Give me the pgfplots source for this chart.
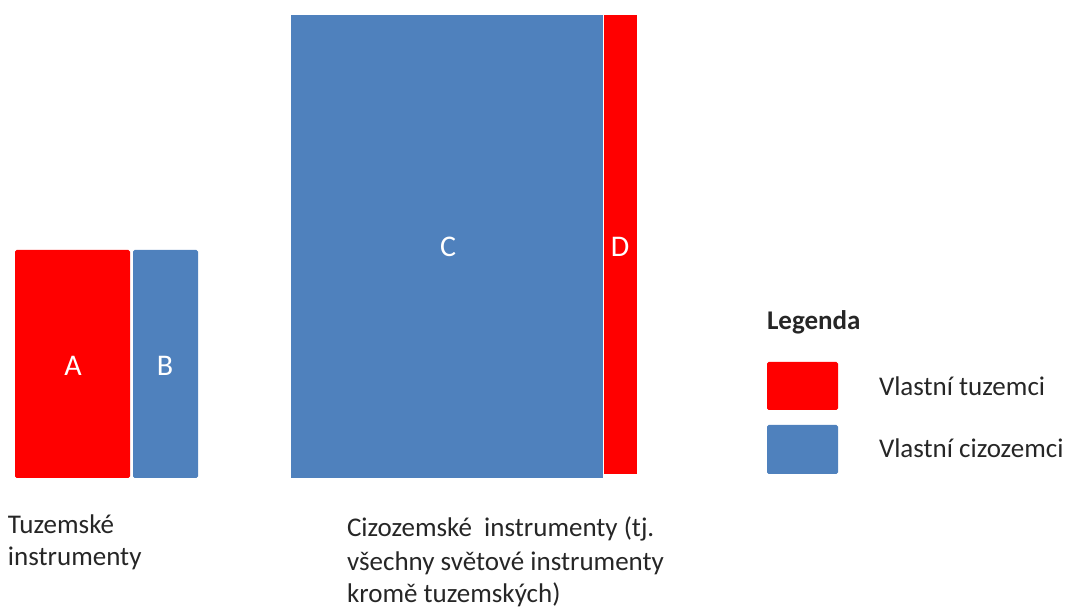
\documentclass[border=0pt]{standalone}
\usepackage{pgfplots}
\pgfplotsset{compat=1.18}
\usepackage{fontspec}
\setmainfont{Carlito}
\definecolor{cred}{HTML}{FF0000}
\definecolor{cblue}{HTML}{4F81BD}
\definecolor{ctext}{HTML}{262626}
\tikzset{
  lbl/.style={font=\fontsize{13.5pt}{16pt}\selectfont, text=ctext, inner sep=0pt, outer sep=0pt, anchor=base west},
  box/.style={font=\fontsize{15pt}{17pt}\selectfont, text=white, inner sep=0pt, outer sep=0pt},
}
\begin{document}
\begin{tikzpicture}
\begin{axis}[
  scale only axis, width=534pt, height=303pt,
  xmin=0, xmax=1068, ymin=0, ymax=606, y dir=reverse,
  hide axis, clip=false,
]
% invisible frame to fix the picture size
\addplot[draw=none, forget plot] coordinates {(0,0) (1068,606)};
% Tuzemske instrumenty: A (own domestic), B (own foreign)
\addplot[fill=cred, draw=none, rounded corners=0.8pt] coordinates {(15,250) (130,250) (130,478) (15,478)} -- cycle;
\addplot[fill=cblue, draw=none, rounded corners=0.8pt] coordinates {(133,250) (198,250) (198,478) (133,478)} -- cycle;
% Cizozemske instrumenty: C (own foreign), D (own domestic)
\addplot[fill=cblue, draw=none] coordinates {(291,15) (603,15) (603,478) (291,478)} -- cycle;
\addplot[fill=cred, draw=none] coordinates {(604,15) (637,15) (637,474) (604,474)} -- cycle;
% legend swatches
\addplot[fill=cred, draw=none, rounded corners=0.8pt] coordinates {(767,362) (838,362) (838,410) (767,410)} -- cycle;
\addplot[fill=cblue, draw=none, rounded corners=0.8pt] coordinates {(767,425) (838,425) (838,474) (767,474)} -- cycle;
% labels in boxes
\node[box] at (axis cs:73,366) {A};
\node[box] at (axis cs:165,366) {B};
\node[box] at (axis cs:448,247) {C};
\node[box] at (axis cs:620,247) {D};
% legend texts
\node[lbl, font=\fontsize{13.5pt}{16pt}\selectfont\bfseries] at (axis cs:767,330) {Legenda};
\node[lbl] at (axis cs:879,395) {Vlastní tuzemci};
\node[lbl] at (axis cs:879,458) {Vlastní cizozemci};
% group captions
\node[lbl] at (axis cs:8,533) {Tuzemské};
\node[lbl] at (axis cs:8,566) {instrumenty};
\node[lbl] at (axis cs:347,537) {Cizozemské\ \ instrumenty (tj.};
\node[lbl] at (axis cs:347,570) {všechny světové instrumenty};
\node[lbl] at (axis cs:347,603) {kromě tuzemských)};
\end{axis}
\end{tikzpicture}
\end{document}
